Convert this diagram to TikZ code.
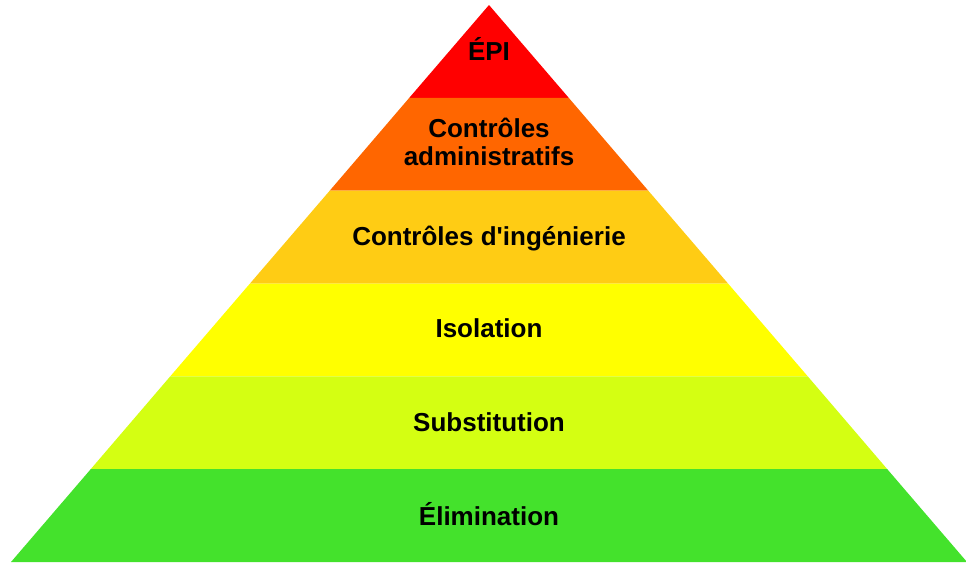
\documentclass[tikz,border=0pt]{standalone}
\usepackage{fontspec}
\setmainfont{Liberation Sans}
\usepackage{xcolor}
\definecolor{ppered}{RGB}{255,0,0}
\definecolor{adminorange}{RGB}{255,102,0}
\definecolor{enggold}{RGB}{255,204,20}
\definecolor{isoyellow}{RGB}{255,255,0}
\definecolor{sublime}{RGB}{212,255,18}
\definecolor{elimgreen}{RGB}{68,226,44}

\begin{document}
\begin{tikzpicture}[x=1pt,y=-1pt,
    tier/.style={font=\bfseries\fontsize{26}{28}\selectfont,
                 align=center,inner sep=0pt}]
    \useasboundingbox (0,0) rectangle (966,562);

    % bands of the pyramid, top to bottom
    \fill[ppered]      (489,5) -- (568.7,97.8) -- (409.3,97.8) -- cycle;
    \fill[adminorange] (409.3,97.8) -- (568.7,97.8) -- (648.3,190.7) -- (329.7,190.7) -- cycle;
    \fill[enggold]     (329.7,190.7) -- (648.3,190.7) -- (728,283.5) -- (250,283.5) -- cycle;
    \fill[isoyellow]   (250,283.5) -- (728,283.5) -- (807.7,376.3) -- (170.3,376.3) -- cycle;
    \fill[sublime]     (170.3,376.3) -- (807.7,376.3) -- (887.3,469.2) -- (90.7,469.2) -- cycle;
    \fill[elimgreen]   (90.7,469.2) -- (887.3,469.2) -- (967,562) -- (11,562) -- cycle;

    \node[tier,anchor=base] (epi) at (489,60) {ÉPI};
    \node[tier] (admin) at (489,141.5) {Contrôles\\administratifs};
    \node[tier,anchor=base] (ing) at (489,245) {Contrôles d\textquotesingle ingénierie};
    \node[tier,anchor=base] (iso) at (489,337) {Isolation};
    \node[tier,anchor=base] (subst) at (489,431) {Substitution};
    \node[tier,anchor=base] (elim) at (489,525) {Élimination};
  \end{tikzpicture}
\end{document}
